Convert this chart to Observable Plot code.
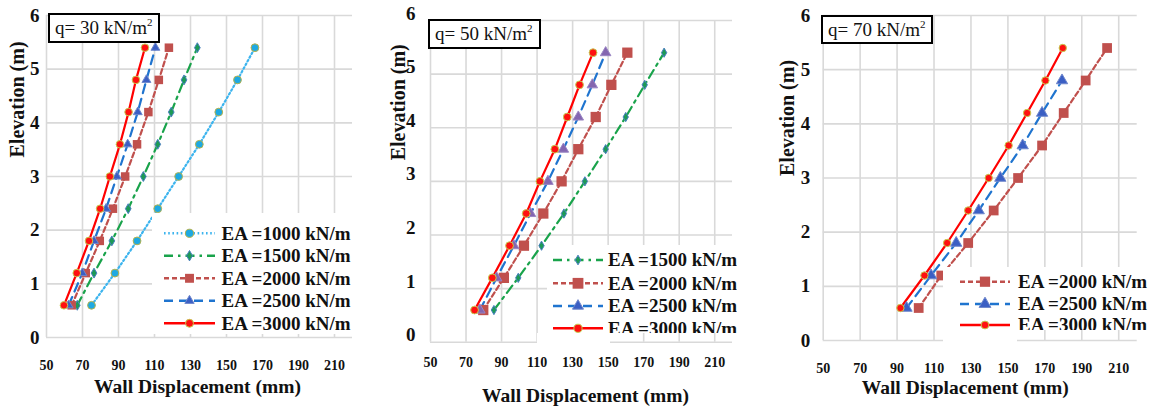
<!DOCTYPE html>
<html><head><meta charset="utf-8">
<script src="https://cdn.jsdelivr.net/npm/d3@7"></script>
<script src="https://cdn.jsdelivr.net/npm/@observablehq/plot@0.6"></script>
<style>
html,body{margin:0;padding:0;background:#fff;}
#root{position:relative;width:1157px;height:412px;overflow:hidden;background:#fff;font-family:'Liberation Serif','DejaVu Serif',serif;}
.panel{position:absolute;top:0;overflow:hidden;}
.panel svg text, #overlay text{font-family:'Liberation Serif','DejaVu Serif',serif !important;}
.qbox{position:absolute;border:2px solid #000;background:#fff;font-size:19px;line-height:25px;padding-left:5px;box-sizing:border-box;white-space:nowrap;color:#111;}
.qbox sup{font-size:11px;line-height:0;position:relative;top:-1px;}
#overlay{position:absolute;left:0;top:0;pointer-events:none;}
</style></head><body><div id="root"></div>
<script>
// ---------- data ----------
const elevation = [0.6, 1.2, 1.8, 2.4, 3.0, 3.6, 4.2, 4.8, 5.4];
const xTicks = [50, 70, 90, 110, 130, 150, 170, 190, 210];
const yTicks = [0, 1, 2, 3, 4, 5, 6];
const qLabels = ["q= 30 kN/m", "q= 50 kN/m", "q= 70 kN/m"];
const eaNames = ["1000", "1500", "2000", "2500", "3000"];
const eaLabels = ["EA =1000 kN/m", "EA =1500 kN/m", "EA =2000 kN/m", "EA =2500 kN/m", "EA =3000 kN/m"];
const xTitle = "Wall Displacement (mm)";
const yTitle = "Elevation (m)";

// q = 30 kN/m2
const q30_EA1000 = [75.0, 88.0, 100.3, 111.8, 123.4, 134.9, 145.7, 156.1, 165.8];
const q30_EA1500 = [67.1, 76.4, 86.3, 95.4, 103.8, 111.8, 119.3, 126.4, 133.8];
const q30_EA2000 = [64.0, 71.8, 79.6, 86.9, 93.7, 100.3, 106.6, 112.4, 118.0];
const q30_EA2500 = [62.3, 69.9, 76.4, 83.1, 89.1, 95.1, 100.7, 105.5, 110.5];
const q30_EA3000 = [59.7, 66.8, 73.6, 79.8, 85.2, 90.8, 95.6, 99.7, 104.7];
// q = 50 kN/m2
const q50_EA1500 = [85.7, 99.4, 112.5, 125.1, 136.9, 148.6, 159.9, 170.6, 181.5];
const q50_EA2000 = [79.7, 91.3, 102.6, 113.5, 123.8, 133.2, 143.0, 151.8, 160.8];
const q50_EA2500 = [77.8, 87.2, 96.9, 106.3, 116.1, 124.8, 133.2, 141.1, 148.6];
const q50_EA3000 = [74.8, 84.8, 94.5, 103.9, 111.6, 120.0, 127.0, 133.9, 141.5];
// q = 70 kN/m2
const q70_EA2000 = [101.7, 113.9, 128.5, 142.3, 155.5, 168.5, 180.2, 192.1, 203.7];
const q70_EA2500 = [95.1, 108.4, 122.0, 134.2, 145.9, 158.0, 168.5, 179.3];
const q70_EA3000 = [91.8, 104.8, 117.1, 128.5, 139.6, 150.4, 160.4, 170.3, 179.7];

// ---------- styles ----------
const styles = {
  "1000": {stroke: "#3cb4ee", dash: "1.6,2.6", width: 2.2, symbol: "circle",   fill: "#1ea9e2", mstroke: "#b5b24c"},
  "1500": {stroke: "#19a34b", dash: "9,5,2.5,5", width: 2.2, symbol: "diamond", fill: "#1c9a56", mstroke: "#4a7fc0"},
  "2000": {stroke: "#c0504d", dash: "5,3", width: 2.2, symbol: "square",   fill: "#c0504d", mstroke: "none"},
  "2500": {stroke: "#1f74cf", dash: "9,6", width: 2.2, symbol: "triangle", fill: "#3b5fc4", mstroke: "#7088cc"},
  "3000": {stroke: "#ff0000", dash: null,  width: 2.2, symbol: "circle",   fill: "#ff1010", mstroke: "#c6cc50"}
};

const panels = [
  {left: 0, width: 380, mL: 46, mR: 28, mT: 15, mB: 75, xPad: 23, yPad: 7, yDy: 0,
   yTdx: -29, yTdy: -19, xTdx: -2, xTdy: 55, q: 0,
   qbox: {l: 48, t: 13, w: 112, h: 30},
   series: [["1000", q30_EA1000], ["1500", q30_EA1500], ["2000", q30_EA2000], ["2500", q30_EA2500], ["3000", q30_EA3000]],
   r: {"1000": 3.9, "1500": 3.0, "2000": 4.8, "2500": 3.3, "3000": 3.8},
   over: {},
   legend: {rect: [152, 213, 204, 121], extra: null, rows: [233.3, 255.7, 278.3, 300.7, 323.3], x0: 164, x1: 215, tx: 221.5, keys: ["1000", "1500", "2000", "2500", "3000"]}},
  {left: 384, width: 381, mL: 46, mR: 33, mT: 20, mB: 70.3, xPad: 15, yPad: 15, yDy: -7,
   yTdx: -32, yTdy: -21, xTdx: 4, xTdy: 60, q: 1,
   qbox: {l: 428, t: 19, w: 113, h: 30},
   series: [["1500", q50_EA1500], ["2000", q50_EA2000], ["2500", q50_EA2500], ["3000", q50_EA3000]],
   r: {"1500": 2.8, "2000": 5.8, "2500": 3.9, "3000": 3.9},
   over: {"2500": {fill: "#8466b0", mstroke: "#9a86c4"}},
   legend: {rect: [547, 245, 190, 88], extra: [537, 333, 73, 12], rows: [260, 283.3, 306, 328.3], x0: 553, x1: 603, tx: 608, keys: ["1500", "2000", "2500", "3000"]}},
  {left: 770, width: 387, mL: 52.7, mR: 20.3, mT: 15, mB: 72, xPad: 23, yPad: 13, yDy: 0,
   yTdx: -36, yTdy: -2, xTdx: -15, xTdy: 53, q: 2,
   qbox: {l: 821, t: 15, w: 112, h: 29},
   series: [["2000", q70_EA2000], ["2500", q70_EA2500], ["3000", q70_EA3000]],
   r: {"2000": 5.5, "2500": 4.2, "3000": 3.7},
   over: {},
   legend: {rect: [943, 267, 214, 63], extra: [943, 330, 74, 14], rows: [281.7, 304, 325], x0: 960, x1: 1010, tx: 1018, keys: ["2000", "2500", "3000"]}}
];

const FONT = "'Liberation Serif','DejaVu Serif',serif";
const root = document.getElementById("root");

panels.forEach(p => {
  const marks = [
    Plot.gridX(xTicks, {stroke: "#d9d9d9", strokeOpacity: 1, strokeWidth: 1.6}),
    Plot.gridY(yTicks, {stroke: "#d9d9d9", strokeOpacity: 1, strokeWidth: 1.6}),
    Plot.axisX(xTicks, {tickSize: 0, tickPadding: p.xPad, fontSize: 14, fontWeight: "bold", fontFamily: FONT, label: null, fill: "#111", tickFormat: d => String(d)}),
    Plot.axisY(yTicks, {tickSize: 0, tickPadding: p.yPad, fontSize: 19, fontWeight: "bold", fontFamily: FONT, label: null, dy: p.yDy, fill: "#111", tickFormat: d => String(d)})
  ];
  p.series.forEach(([k, vals]) => {
    const st = Object.assign({}, styles[k], p.over[k] || {});
    const rows = vals.map((v, i) => ({x: v, y: elevation[i]}));
    marks.push(Plot.line(rows, {x: "x", y: "y", stroke: st.stroke, strokeWidth: st.width, strokeDasharray: st.dash || undefined}));
  });
  p.series.forEach(([k, vals]) => {
    const st = Object.assign({}, styles[k], p.over[k] || {});
    const rows = vals.map((v, i) => ({x: v, y: elevation[i]}));
    marks.push(Plot.dot(rows, {x: "x", y: "y", symbol: st.symbol, r: p.r[k], fill: st.fill, stroke: st.mstroke, strokeWidth: 1}));
  });
  marks.push(Plot.text([yTitle], {text: d => d, frameAnchor: "left", rotate: -90, dx: p.yTdx, dy: p.yTdy, fontSize: 20, fontWeight: "bold", fontFamily: FONT, fill: "#111"}));
  marks.push(Plot.text([xTitle], {text: d => d, frameAnchor: "bottom", dx: p.xTdx, dy: p.xTdy, fontSize: 19.5, fontWeight: "bold", fontFamily: FONT, fill: "#111"}));

  const chart = Plot.plot({
    width: p.width, height: 412,
    marginLeft: p.mL, marginRight: p.mR, marginTop: p.mT, marginBottom: p.mB,
    x: {domain: [50, 220], label: null},
    y: {domain: [0, 6], label: null},
    style: {fontFamily: FONT, background: "transparent"},
    marks
  });
  const wrap = document.createElement("div");
  wrap.className = "panel";
  wrap.style.left = p.left + "px";
  wrap.style.width = p.width + "px";
  wrap.style.height = "412px";
  wrap.appendChild(chart);
  root.appendChild(wrap);

  const qb = document.createElement("div");
  qb.className = "qbox";
  Object.assign(qb.style, {left: p.qbox.l + "px", top: p.qbox.t + "px", width: p.qbox.w + "px", height: p.qbox.h + "px"});
  qb.innerHTML = qLabels[p.q] + "<sup>2</sup>";
  root.appendChild(qb);
});

// ---------- legends (overlay) ----------
const svg = d3.select(root).append("svg").attr("id", "overlay").attr("width", 1157).attr("height", 412);
const symMap = {circle: d3.symbolCircle, diamond: d3.symbolDiamond, square: d3.symbolSquare, triangle: d3.symbolTriangle};
panels.forEach((p, pi) => {
  const L = p.legend;
  const [rx, ry, rw, rh] = L.rect;
  const cid = "lgclip" + pi;
  svg.append("clipPath").attr("id", cid).append("rect").attr("x", rx).attr("y", ry).attr("width", rw).attr("height", rh);
  const g = svg.append("g").attr("clip-path", `url(#${cid})`);
  g.append("rect").attr("x", rx).attr("y", ry).attr("width", rw).attr("height", rh).attr("fill", "#fff");
  if (L.extra) svg.append("rect").attr("x", L.extra[0]).attr("y", L.extra[1]).attr("width", L.extra[2]).attr("height", L.extra[3]).attr("fill", "#fff");
  L.keys.forEach((k, i) => {
    const st = styles[k];
    const y = L.rows[i];
    g.append("line").attr("x1", L.x0).attr("x2", L.x1).attr("y1", y).attr("y2", y)
      .attr("stroke", st.stroke).attr("stroke-width", st.width + 0.3)
      .attr("stroke-dasharray", st.dash || null);
    const cx = (L.x0 + L.x1) / 2;
    const r = p.r[k] * 1.05;
    g.append("path").attr("d", d3.symbol(symMap[st.symbol], Math.PI * r * r)())
      .attr("transform", `translate(${cx},${y})`)
      .attr("fill", st.fill).attr("stroke", st.mstroke).attr("stroke-width", 1);
    g.append("text").attr("x", L.tx).attr("y", y + 6.4)
      .style("font-family", FONT).style("font-size", "19px").style("font-weight", "bold").attr("fill", "#111")
      .text(eaLabels[eaNames.indexOf(k)]);
  });
});
</script></body></html>
